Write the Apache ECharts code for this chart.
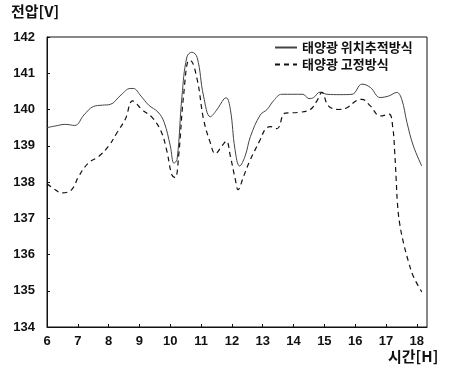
<!DOCTYPE html>
<html>
<head>
<meta charset="utf-8">
<script src="https://cdn.jsdelivr.net/npm/echarts@6/dist/echarts.min.js"></script>
<style>
  html, body { margin: 0; padding: 0; background: #fff; }
  #chart { width: 454px; height: 373px; }
</style>
</head>
<body>
<div id="chart"></div>
<script>
// 태양광 위치추적방식 (solid)
const trackHours = [6.0, 6.3, 6.6, 6.9, 7.2, 7.5, 7.8, 8.05, 8.4, 8.7, 8.8, 9.05, 9.3, 9.6, 9.8, 10.0, 10.12, 10.22, 10.38, 10.54, 10.7, 10.87, 11.08, 11.3, 11.5, 11.75, 11.82, 11.95, 12.1, 12.25, 12.43, 12.6, 12.92, 13.14, 13.35, 13.62, 14.3, 14.5, 14.65, 14.86, 15.08, 15.5, 15.9, 16.22, 16.49, 16.81, 17.08, 17.35, 17.51, 17.68, 17.89, 18.16];
const trackVolts = [139.50, 139.55, 139.59, 139.56, 139.85, 140.08, 140.12, 140.14, 140.40, 140.58, 140.58, 140.37, 140.12, 139.93, 139.65, 139.0, 138.52, 138.62, 140.37, 141.45, 141.58, 141.44, 140.37, 139.80, 139.98, 140.30, 140.32, 140.0, 138.9, 138.44, 138.72, 139.25, 139.85, 140.0, 140.24, 140.42, 140.42, 140.30, 140.33, 140.48, 140.42, 140.41, 140.42, 140.70, 140.61, 140.33, 140.37, 140.47, 140.28, 139.64, 138.99, 138.44];

// 태양광 고정방식 (dashed)
const fixedHours = [6.0, 6.16, 6.5, 6.8, 7.03, 7.35, 7.67, 8.0, 8.27, 8.54, 8.78, 9.08, 9.41, 9.7, 9.89, 10.05, 10.16, 10.27, 10.43, 10.6, 10.65, 10.87, 11.08, 11.3, 11.46, 11.68, 11.82, 11.95, 12.11, 12.2, 12.38, 12.59, 12.92, 13.08, 13.24, 13.46, 13.73, 14.16, 14.54, 14.76, 14.92, 15.13, 15.46, 15.73, 16.05, 16.22, 16.49, 16.81, 17.1, 17.22, 17.28, 17.33, 17.37, 17.44, 17.57, 17.73, 17.89, 18.16];
const fixedVolts = [137.95, 137.85, 137.70, 137.79, 138.16, 138.53, 138.70, 138.99, 139.36, 139.73, 140.24, 140.0, 139.78, 139.4, 138.85, 138.2, 138.12, 138.71, 140.37, 141.35, 141.35, 140.84, 139.73, 139.08, 138.78, 139.0, 139.13, 138.71, 138.07, 137.79, 138.16, 138.6, 139.17, 139.45, 139.53, 139.47, 139.9, 139.92, 140.0, 140.24, 140.47, 140.1, 140.0, 140.05, 140.25, 140.28, 140.1, 139.82, 139.87, 139.5, 138.85, 138.07, 137.42, 136.87, 136.31, 135.80, 135.39, 134.97];

const xTicks = [6, 7, 8, 9, 10, 11, 12, 13, 14, 15, 16, 17, 18];
const seriesNames = ['태양광 위치추적방식', '태양광 고정방식'];

const zip = (xs, ys) => xs.map((x, i) => [x, ys[i]]);

const chart = echarts.init(document.getElementById('chart'));
const numFont = { fontFamily: 'Liberation Sans', fontSize: 13, fontWeight: 'bold', color: '#111' };
const krFont = 'Noto Sans CJK KR';

chart.setOption({
  animation: false,
  backgroundColor: '#fff',
  grid: {
    left: 47, right: 27, top: 37, bottom: 46,
    show: true, borderColor: '#111', borderWidth: 1,
  },
  legend: {
    orient: 'vertical',
    left: 274, top: 41, padding: 0,
    itemWidth: 22, itemHeight: 10, itemGap: 4,
    data: seriesNames,
    itemStyle: { opacity: 0 },
    textStyle: { fontFamily: krFont, fontSize: 13, fontWeight: 'bold', color: '#111' },
  },
  graphic: [
    { type: 'text', left: 11, top: 4, style: { text: '전압[V]', font: 'bold 15px "Noto Sans CJK KR"', fill: '#111' } },
    { type: 'text', left: 388, top: 349, style: { text: '시간[H]', font: 'bold 15px "Noto Sans CJK KR"', fill: '#111' } },
  ],
  xAxis: {
    type: 'value', min: 6, max: 18.33,
    axisLine: { lineStyle: { color: '#111' } },
    axisTick: { inside: true, length: 3, customValues: xTicks, lineStyle: { color: '#111' } },
    axisLabel: { customValues: xTicks, margin: 8, ...numFont },
    splitLine: { show: false },
  },
  yAxis: {
    type: 'value', min: 134, max: 142, interval: 1,
    axisLine: { show: true, lineStyle: { color: '#111' } },
    axisTick: { show: true, inside: true, length: 3, lineStyle: { color: '#111' } },
    axisLabel: { margin: 12, ...numFont },
    splitLine: { show: false },
  },
  series: [
    {
      name: seriesNames[0], type: 'line', smooth: 0.4, symbol: 'none',
      data: zip(trackHours, trackVolts),
      lineStyle: { color: '#444', width: 1 },
      itemStyle: { color: '#444' },
    },
    {
      name: seriesNames[1], type: 'line', smooth: 0.4, symbol: 'none',
      data: zip(fixedHours, fixedVolts),
      lineStyle: { color: '#111', width: 1.2, type: [5, 4] },
      itemStyle: { color: '#111' },
    },
  ],
});
</script>
</body>
</html>
